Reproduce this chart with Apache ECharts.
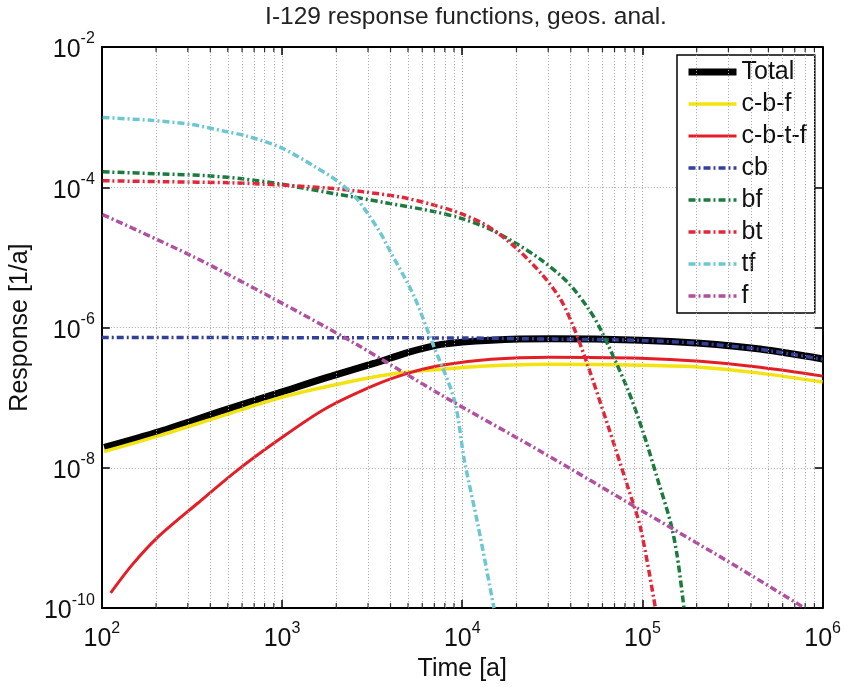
<!DOCTYPE html>
<html>
<head>
<meta charset="utf-8">
<script src="https://cdn.jsdelivr.net/npm/echarts@6/dist/echarts.min.js"></script>
<style>
html,body{margin:0;padding:0;background:#fff}
#chart{width:844px;height:687px}
</style>
</head>
<body>
<div id="chart"></div>
<script>
// Response functions for I-129, [time in years, response in 1/a]
const seriesNames = ['Total', 'c-b-f', 'c-b-t-f', 'cb', 'bf', 'bt', 'tf', 'f'];

const total = [[103,1.95e-8],[209,3.28e-8],[484,6.7e-8],[962,1.17e-7],[1728,1.9e-7],[3266,3.1e-7],[5032,4.43e-7],[7656,5.75e-7],[14460,6.6e-7],[31000,6.9e-7],[97500,6.6e-7],[209100,5.97e-7],[448600,4.93e-7],[1000000,3.57e-7]];
const cbf = [[103,1.71e-8],[209,2.88e-8],[484,5.7e-8],[962,9.9e-8],[1728,1.42e-7],[4055,2.17e-7],[7656,2.55e-7],[12730,2.81e-7],[31000,3.0e-7],[97500,2.9e-7],[209100,2.72e-7],[448600,2.24e-7],[1000000,1.67e-7]];
const cbtf = [[112,1.65e-10],[148,4.2e-10],[204,1.02e-9],[339,3.1e-9],[564,9.2e-9],[962,2.53e-8],[1728,6.9e-8],[3266,1.51e-7],[5032,2.24e-7],[7656,2.9e-7],[14460,3.53e-7],[31000,3.77e-7],[97500,3.65e-7],[209100,3.3e-7],[448600,2.72e-7],[1000000,2.03e-7]];
const cb = [[100,7.2e-7],[10000,7.1e-7],[31000,6.85e-7],[97500,6.55e-7],[209100,5.94e-7],[448600,4.89e-7],[1000000,3.53e-7]];
const bf = [[101,1.66e-4],[217,1.55e-4],[385,1.46e-4],[601,1.32e-4],[975,1.12e-4],[1289,9.8e-5],[1963,8.1e-5],[3707,6.06e-5],[7003,4.5e-5],[9866,3.6e-5],[13925,2.6e-5],[19370,1.65e-5],[27300,9.3e-6],[38540,4.4e-6],[49700,1.92e-6],[58600,9.4e-7],[82600,1.34e-7],[101400,3.1e-8],[121100,7.0e-9],[142900,1.7e-9],[156000,5.5e-10],[170000,1.0e-10]];
const bt = [[101,1.24e-4],[223,1.2e-4],[516,1.16e-4],[975,1.08e-4],[1842,9.7e-5],[2839,8.6e-5],[4604,7.2e-5],[6750,5.7e-5],[9866,4.2e-5],[13925,2.77e-5],[19370,1.45e-5],[27300,5.98e-6],[35240,2.49e-6],[41590,1.0e-6],[49700,2.9e-7],[64100,4.12e-8],[82600,5.5e-9],[97500,1.4e-9],[118000,1.0e-10]];
const tf = [[101,9.9e-4],[187,9.0e-4],[310,7.9e-4],[479,6.3e-4],[641,5.35e-4],[975,3.73e-4],[1503,2.01e-4],[2014,1.24e-4],[2594,6.9e-5],[3475,2.35e-5],[3900,1.35e-5],[5360,2.92e-6],[6750,6.5e-7],[9040,9.3e-8],[10250,1.32e-8],[12250,1.49e-9],[15000,1.0e-10]];
const f = [[101,4.08e-5],[318,1.04e-5],[881,2.65e-6],[2437,6.3e-7],[7656,1.09e-7],[27300,1.71e-8],[97500,2.51e-9],[347500,3.67e-10],[795700,1.0e-10]];

// Axis ranges and minor decade positions on the time axis
const timeMin = 100, timeMax = 1e6;
const respMin = 1e-10, respMax = 1e-2;
const minorTimes = [200,300,400,500,600,700,800,900,
  2000,3000,4000,5000,6000,7000,8000,9000,
  20000,30000,40000,50000,60000,70000,80000,90000,
  200000,300000,400000,500000,600000,700000,800000,900000];

const FONT = '"Liberation Sans", Arial, Helvetica, sans-serif';
const dashDot = [7, 3, 2, 3];

const styles = {
  'Total':   { color: '#000000', width: 7 },
  'c-b-f':   { color: '#f2e311', width: 3.5 },
  'c-b-t-f': { color: '#e41e26', width: 3 },
  'cb':      { color: '#33409a', width: 3.5, type: dashDot },
  'bf':      { color: '#1b7a3e', width: 3.5, type: dashDot },
  'bt':      { color: '#e0283a', width: 3.5, type: dashDot },
  'tf':      { color: '#6cc8d0', width: 3.5, type: dashDot },
  'f':       { color: '#b0509e', width: 3.5, type: dashDot }
};
const seriesData = { 'Total': total, 'c-b-f': cbf, 'c-b-t-f': cbtf, 'cb': cb, 'bf': bf, 'bt': bt, 'tf': tf, 'f': f };

function powLabel(v) {
  const e = Math.round(Math.log10(v));
  return '{b|10}{s|' + e + '}';
}
const powRich = {
  b: { fontSize: 25, fontFamily: FONT, color: '#111', lineHeight: 32, verticalAlign: 'bottom' },
  s: { fontSize: 16, fontFamily: FONT, color: '#111', lineHeight: 15, verticalAlign: 'top' }
};

function lineSeries(name) {
  const st = styles[name];
  return {
    name: name, type: 'line', data: seriesData[name],
    xAxisIndex: 0, yAxisIndex: 0,
    showSymbol: false, symbol: 'none',
    smooth: 0.3,
    lineStyle: { color: st.color, width: st.width, type: st.type || 'solid', cap: 'butt' },
    itemStyle: { color: st.color },
    emphasis: { disabled: true }
  };
}

const chart = echarts.init(document.getElementById('chart'), null, { renderer: 'canvas' });

chart.setOption({
  animation: false,
  backgroundColor: '#fff',
  title: {
    text: 'I-129 response functions, geos. anal.',
    left: 461, top: 0, textAlign: 'center',
    textStyle: { fontFamily: FONT, fontSize: 24.5, fontWeight: 'normal', color: '#222' }
  },
  grid: { left: 99, top: 47, right: 21, bottom: 74, containLabel: false },
  legend: {
    data: seriesNames.map(n => ({
      name: n,
      itemStyle: { opacity: 0 },
      lineStyle: { color: styles[n].color, width: styles[n].width, type: styles[n].type || 'solid' }
    })),
    orient: 'vertical',
    left: 677, top: 55,
    padding: [4, 8, 4, 8],
    itemWidth: 48, itemHeight: 14, itemGap: 6,
    backgroundColor: '#fff',
    borderColor: '#000', borderWidth: 1.5,
    textStyle: { fontFamily: FONT, fontSize: 25, color: '#111', lineHeight: 26 },
    selectedMode: false
  },
  xAxis: [{
    type: 'log', logBase: 10, min: timeMin, max: timeMax, position: 'bottom',
    axisLine: { show: true, lineStyle: { color: '#000', width: 2 } },
    axisTick: { show: true, inside: true, length: 8, lineStyle: { color: '#000', width: 1.5 } },
    axisLabel: { formatter: powLabel, rich: powRich, margin: 12 },
    splitLine: { show: true, lineStyle: { color: '#a8a8a8', width: 1, type: [1, 2] } },
    minorTick: { show: false }, minorSplitLine: { show: false },
    name: 'Time [a]', nameLocation: 'middle', nameGap: 46,
    nameTextStyle: { fontFamily: FONT, fontSize: 25, color: '#111' }
  }, {
    type: 'log', logBase: 10, min: timeMin, max: timeMax, position: 'top',
    axisLine: { show: true, lineStyle: { color: '#000', width: 2 } },
    axisTick: { show: true, inside: true, length: 8, lineStyle: { color: '#000', width: 1.5 } },
    axisLabel: { show: false }, splitLine: { show: false }
  }],
  yAxis: [{
    type: 'log', logBase: 100, min: respMin, max: respMax, position: 'left',
    axisLine: { show: true, lineStyle: { color: '#000', width: 2 } },
    axisTick: { show: true, inside: true, length: 8, lineStyle: { color: '#000', width: 1.5 } },
    axisLabel: { formatter: powLabel, rich: powRich, margin: 7 },
    splitLine: { show: true, lineStyle: { color: '#a8a8a8', width: 1, type: [1, 2] } },
    name: 'Response [1/a]', nameLocation: 'middle', nameGap: 58,
    nameTextStyle: { fontFamily: FONT, fontSize: 25, color: '#111' }
  }, {
    type: 'log', logBase: 100, min: respMin, max: respMax, position: 'right',
    axisLine: { show: true, lineStyle: { color: '#000', width: 2 } },
    axisTick: { show: true, inside: true, length: 8, lineStyle: { color: '#000', width: 1.5 } },
    axisLabel: { show: false }, splitLine: { show: false }
  }],
  series: [
    {
      // minor decade ticks along the bottom edge, with dotted minor grid
      name: 'minorBottom', type: 'scatter', xAxisIndex: 0, yAxisIndex: 0,
      data: minorTimes.map(t => [t, respMin]),
      symbol: 'rect', symbolSize: [1.2, 5], symbolOffset: [0, -2.5],
      itemStyle: { color: '#000' }, silent: true, clip: false, z: 5,
      markLine: {
        silent: true, symbol: ['none', 'none'], label: { show: false },
        lineStyle: { color: '#a8a8a8', width: 1, type: [1, 2] },
        emphasis: { disabled: true },
        data: minorTimes.map(t => ({ xAxis: t }))
      }
    },
    {
      name: 'minorTop', type: 'scatter', xAxisIndex: 0, yAxisIndex: 0,
      data: minorTimes.map(t => [t, respMax]),
      symbol: 'rect', symbolSize: [1.2, 5], symbolOffset: [0, 2.5],
      itemStyle: { color: '#000' }, silent: true, clip: false, z: 5
    }
  ].concat(seriesNames.map(lineSeries))
});
</script>
</body>
</html>
